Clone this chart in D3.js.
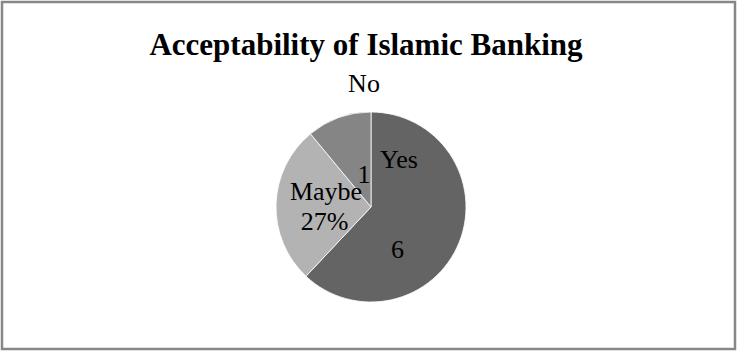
<!DOCTYPE html>
<html>
<head>
<meta charset="utf-8">
<script src="https://cdn.jsdelivr.net/npm/d3@7/dist/d3.min.js"></script>
<style>
  html, body { margin: 0; padding: 0; background: #fff; }
  svg { display: block; }
</style>
</head>
<body>
<svg id="chart" width="737" height="351"></svg>
<script>
// Survey answers on whether Islamic banking is acceptable (share of respondents, %)
const categories = ["Yes", "Maybe", "No"];
const shares = [62, 27, 11];
const colors = ["#646464", "#b3b3b3", "#858585"];
// Data label text as it appears on each slice (name line, value line)
const labelNames = ["Yes", "Maybe", "No"];
const labelValues = ["6", "27%", "1"];

const width = 737, height = 351;
const svg = d3.select("#chart");
const font = "'Liberation Serif', 'Times New Roman', serif";

// Chart area frame
svg.append("rect")
  .attr("x", 2).attr("y", 2)
  .attr("width", width - 4).attr("height", height - 4)
  .attr("fill", "#fff")
  .attr("stroke", "#878787")
  .attr("stroke-width", 2.5);

svg.append("text")
  .attr("x", 366).attr("y", 55)
  .attr("text-anchor", "middle")
  .attr("font-family", font)
  .attr("font-weight", "bold")
  .attr("font-size", 31)
  .attr("fill", "#000")
  .text("Acceptability of Islamic Banking");

const cx = 371, cy = 207, r = 95;
const g = svg.append("g").attr("transform", `translate(${cx},${cy})`);

const pie = d3.pie().sort(null).value(d => d.value);
const arcs = pie(categories.map((c, i) => ({ cat: c, value: shares[i], i })));
const arc = d3.arc().innerRadius(0).outerRadius(r);

g.selectAll("path.slice")
  .data(arcs)
  .enter().append("path")
  .attr("class", "slice")
  .attr("d", arc)
  .attr("fill", d => colors[d.data.i])
  .attr("stroke", "#fff")
  .attr("stroke-width", 0.8);

// Label placement relative to pie centre
const labelLayout = {
  Yes:   { name: [28, -39], value: [26.5, 51] },
  Maybe: { name: [-45, -7], value: [-46.5, 23] },
  No:    { name: [-7, -115], value: [-7, -24] }
};

arcs.forEach(d => {
  const lay = labelLayout[d.data.cat];
  const i = d.data.i;
  [["name", labelNames[i]], ["value", labelValues[i]]].forEach(([k, t]) => {
    g.append("text")
      .attr("x", lay[k][0]).attr("y", lay[k][1])
      .attr("text-anchor", "middle")
      .attr("font-family", font)
      .attr("font-size", 26)
      .attr("fill", "#000")
      .text(t);
  });
});
</script>
</body>
</html>
